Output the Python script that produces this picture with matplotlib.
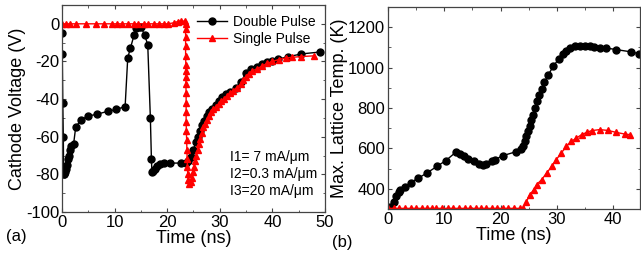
import matplotlib.pyplot as plt
from matplotlib.ticker import MultipleLocator

plt.rcParams['font.family'] = ['Liberation Sans', 'DejaVu Sans']
plt.rcParams['axes.unicode_minus'] = False

# (a) cathode voltage, double pulse
dp_t = [0, 0.05, 0.15, 0.25, 0.3, 0.35, 0.45, 0.55, 0.7, 0.9, 1.1, 1.3, 1.5, 1.8, 2.2,
        2.6, 3.6, 5.0, 6.7, 8.7, 10.3, 12.0, 12.5, 13.0, 13.7, 14.0, 14.6, 15.0, 15.7,
        16.3, 16.8, 17.0, 17.1, 17.3, 17.6, 18.0, 18.6, 19.3, 20.5, 22.6, 23.5, 24.0,
        24.5, 25.0, 25.4, 25.8, 26.2, 26.6, 27.0, 27.5, 28.0, 28.6, 29.2, 29.8, 30.5,
        31.2, 32.0, 33.0, 34.0, 35.0, 36.0, 37.0, 38.0, 39.0, 40.0, 41.0, 43.0, 45.5, 49.0]
dp_v = [-5, -16, -42, -60, -78, -80, -80, -79, -77, -75, -72, -70, -67, -65, -64,
        -55, -51, -49, -48, -46.5, -45.5, -44, -18, -13, -6, -2, -1.5, -1.5, -6,
        -11, -50, -72, -79, -78, -77, -75.5, -74.5, -74, -74, -74, -74, -73,
        -71, -67, -63, -60, -57, -54, -51.5, -49, -47, -45, -43, -41, -39,
        -37.5, -36, -34, -31, -26, -24, -23, -21.5, -20.5, -19.5, -18.8, -17.5, -16, -15]

# (a) cathode voltage, single pulse
sp_t = [0, 0.8, 1.6, 2.6, 4.6, 6.5, 7.9, 9.6, 10.5, 11.5, 12.6, 13.6, 14.4, 15.5, 16.4,
        17.4, 18.4, 19.3, 20.1, 21.2, 22.0, 22.7, 23.3,
        23.5, 23.5, 23.5, 23.5, 23.5, 23.55, 23.55, 23.55, 23.55, 23.6, 23.6, 23.6,
        23.6, 23.65, 23.7, 23.75, 23.8, 23.85, 23.9, 24.0, 24.2,
        24.5, 24.7, 24.9, 25.1, 25.3, 25.5, 25.8, 26.0, 26.3, 26.6, 26.9, 27.2, 27.6,
        28.0, 28.4, 28.8, 29.3, 29.8, 30.3, 30.8, 31.3, 31.9, 32.5, 33.2, 34.0, 34.5,
        35.0, 35.5, 36.2, 37.0, 38.0, 39.0, 40.0, 41.2, 42.5, 43.8, 45.5, 48.0]
sp_v = [0, 0, 0, 0, 0, 0, 0, 0, 0, 0, 0, 0, 0, 0, 0,
        0, 0, 0, 0, 0.5, 1.2, 1.4, 1.4,
        0, -3, -7, -12, -17, -22, -25, -28, -32, -37, -42, -47,
        -52, -57, -62, -67, -72, -76, -80, -83, -85,
        -84, -82, -79, -76, -73, -70, -67, -64, -61, -58, -55, -53, -51,
        -49, -47, -45.5, -44, -42.5, -41, -40, -38.5, -37, -35.5, -34, -32, -30,
        -28, -26.5, -25, -24, -22.5, -21, -20, -19, -18.2, -17.8, -17.4, -17]

# (b) max lattice temperature, double pulse
dt_t = [0, 0.4, 1.0, 1.5, 1.9, 2.2, 2.95, 4.0, 5.4, 6.9, 8.7, 10.3, 12.0, 12.8, 13.5,
        14.3, 15.2, 16.1, 16.8, 17.5, 18.4, 19.0, 20.4, 22.7, 23.7, 24.0, 24.3, 24.6,
        24.9, 25.2, 25.5, 25.8, 26.2, 26.5, 26.9, 27.3, 27.8, 28.5, 29.4, 30.4, 31.1,
        31.7, 32.4, 33.2, 34.1, 35.0, 35.9, 36.7, 37.6, 38.8, 40.6, 43.2, 44.7]
dt_k = [305, 312, 337, 362, 383, 395, 407, 431, 453, 478, 511, 540, 580, 574, 564,
        550, 536, 524, 519, 524, 537, 544, 564, 583, 597, 610, 635, 660,
        684, 712, 742, 767, 800, 833, 866, 894, 927, 965, 1007, 1045, 1065,
        1081, 1097, 1106, 1106, 1109, 1106, 1101, 1097, 1097, 1089, 1078, 1068]

# (b) max lattice temperature, single pulse
st_t = [0, 1.0, 2.0, 3.0, 4.0, 5.0, 6.0, 7.0, 7.8, 8.6, 9.6, 10.6, 11.6, 12.6, 13.6,
        14.6, 15.6, 16.5, 17.4, 18.4, 19.4, 20.4, 21.4, 22.4, 23.4, 24.0,
        24.6, 25.2, 25.9, 26.4, 27.3, 28.2, 29.1, 29.9, 30.8, 31.7, 32.6, 33.5, 34.4,
        35.3, 36.2, 37.6, 39.1, 40.6, 42.1, 43.0]
st_k = [303] * 26 + [337, 370, 395, 420, 445, 478, 511, 544, 577, 610, 635, 651, 668,
                     679, 688, 693, 689, 679, 671, 668]

notes = ['I1= 7 mA/\u03bcm', 'I2=0.3 mA/\u03bcm', 'I3=20 mA/\u03bcm']

W, H = 641, 259
fig = plt.figure(figsize=(W / 100, H / 100), dpi=100)
ax1 = fig.add_axes([62 / W, 1 - 212 / H, 263 / W, 207 / H])
ax2 = fig.add_axes([388 / W, 1 - 209 / H, 252 / W, 202 / H])

spine_col = '#444444'
for ax in (ax1, ax2):
    for s in ax.spines.values():
        s.set_color(spine_col)
        s.set_linewidth(0.9)
    ax.tick_params(which='both', direction='in', top=True, right=True,
                   color=spine_col, labelsize=12, pad=2)
    ax.tick_params(which='major', length=3)
    ax.tick_params(which='minor', length=1.8)

ax1.plot(dp_t, dp_v, '-o', color='black', lw=1, ms=5, label='Double Pulse')
ax1.plot(sp_t, sp_v, '-^', color='red', lw=1, ms=5, label='Single Pulse')
ax1.set_xlim(0, 50)
ax1.set_ylim(-100, 10)
ax1.xaxis.set_major_locator(MultipleLocator(10))
ax1.xaxis.set_minor_locator(MultipleLocator(5))
ax1.yaxis.set_major_locator(MultipleLocator(20))
ax1.yaxis.set_minor_locator(MultipleLocator(10))
ax1.set_xlabel('Time (ns)', fontsize=13, labelpad=0)
ax1.set_ylabel('Cathode Voltage (V)', fontsize=13, labelpad=0)
ax1.legend(loc='upper right', bbox_to_anchor=(1.0, 1.0), frameon=False, fontsize=10,
           handlelength=2.2, handletextpad=0.4, labelspacing=0.25, borderaxespad=0.3)
for i, s in enumerate(notes):
    ax1.text(0.64, 0.265 - i * 0.082, s, transform=ax1.transAxes, fontsize=10,
             va='center', ha='left')

ax2.plot(dt_t, dt_k, '-o', color='black', lw=1, ms=5)
ax2.plot(st_t, st_k, '-^', color='red', lw=1, ms=5)
ax2.set_xlim(0, 44.8)
ax2.set_ylim(300, 1300)
ax2.xaxis.set_major_locator(MultipleLocator(10))
ax2.xaxis.set_minor_locator(MultipleLocator(5))
ax2.yaxis.set_major_locator(MultipleLocator(200))
ax2.yaxis.set_minor_locator(MultipleLocator(100))
ax2.set_xlabel('Time (ns)', fontsize=13, labelpad=0)
ax2.set_ylabel('Max. Lattice Temp. (K)', fontsize=13, labelpad=0)

fig.text(16 / W, 1 - 237 / H, '(a)', fontsize=12, ha='center', va='center')
fig.text(342 / W, 1 - 242 / H, '(b)', fontsize=12, ha='center', va='center')

fig.savefig('out.png', dpi=100)
